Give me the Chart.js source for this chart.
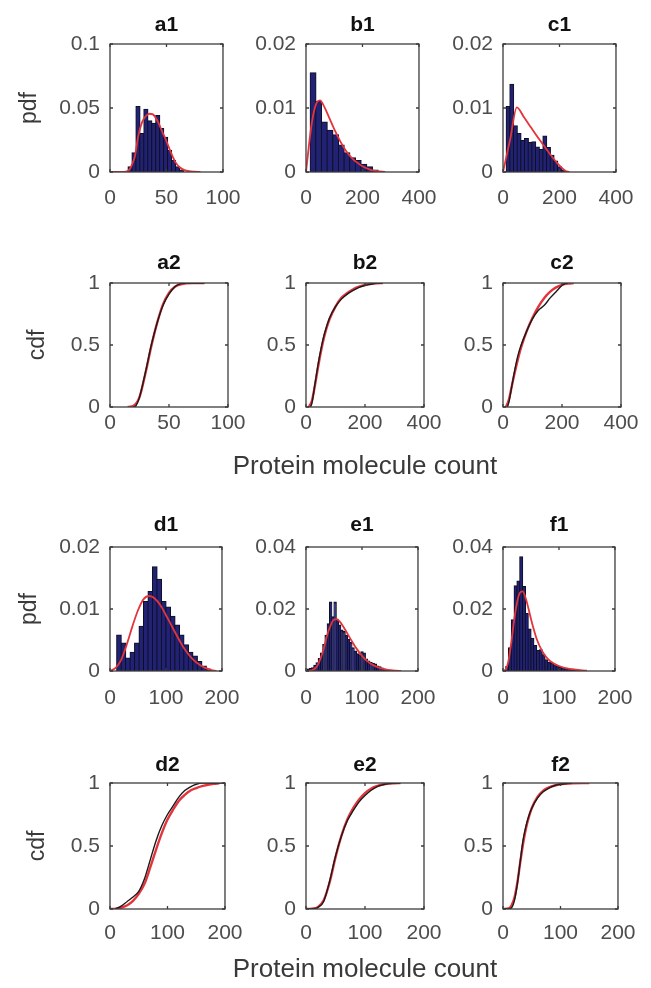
<!DOCTYPE html>
<html><head><meta charset="utf-8">
<script src="https://cdn.jsdelivr.net/npm/chart.js@4.4.1/dist/chart.umd.min.js"></script>
<style>
html,body{margin:0;padding:0;background:#fff;}
body{width:651px;height:988px;position:relative;overflow:hidden;}
canvas{position:absolute;}
</style></head><body>
<script>
// ---------- tick values and labels ----------
const xTicks100 = [0, 50, 100];   const xLabels100 = ['0', '50', '100'];
const xTicks200 = [0, 100, 200];  const xLabels200 = ['0', '100', '200'];
const xTicks400 = [0, 200, 400];  const xLabels400 = ['0', '200', '400'];
const yTicksA1 = [0, 0.05, 0.1];  const yLabelsA1 = ['0', '0.05', '0.1'];
const yTicks002 = [0, 0.01, 0.02]; const yLabels002 = ['0', '0.01', '0.02'];
const yTicks004 = [0, 0.02, 0.04]; const yLabels004 = ['0', '0.02', '0.04'];
const yTicksCdf = [0, 0.5, 1];    const yLabelsCdf = ['0', '0.5', '1'];

// ---------- a1 ----------
const a1BinX = [17.75, 21.25, 24.75, 28.25, 31.75, 35.25, 38.75, 42.25, 45.75, 49.25, 52.75, 56.25, 59.75, 63.25];
const a1BinY = [0.004, 0.015, 0.051, 0.030, 0.049, 0.040, 0.038, 0.044, 0.034, 0.027, 0.017, 0.009, 0.004, 0.0015];
const a1FitX = [0, 10, 15, 18, 20, 22, 25, 28, 31, 35, 38, 42, 46, 50, 54, 58, 62, 66, 70, 75, 80];
const a1FitY = [0, 0, 0.0005, 0.003, 0.007, 0.012, 0.028, 0.038, 0.043, 0.0455, 0.045, 0.040, 0.032, 0.024, 0.015, 0.0075, 0.0035, 0.0015, 0.0006, 0.0002, 0];
// ---------- b1 ----------
const b1BinX = [25, 45, 65, 85, 105, 125, 145, 165, 185, 205, 225, 245];
const b1BinY = [0.0155, 0.011, 0.0078, 0.0065, 0.0058, 0.0042, 0.003, 0.0022, 0.0018, 0.0012, 0.0008, 0.0003];
const b1FitX = [0, 10, 20, 30, 40, 50, 60, 70, 80, 100, 120, 140, 160, 180, 200, 220, 240, 260, 280];
const b1FitY = [0, 0.004, 0.0075, 0.0098, 0.011, 0.0112, 0.0106, 0.0097, 0.0087, 0.0067, 0.0049, 0.0034, 0.0023, 0.0015, 0.0009, 0.0005, 0.0002, 0.0001, 0];
// ---------- c1 ----------
const c1BinX = [18, 31, 44, 57, 70, 83, 96, 109, 122, 135, 148, 161, 174, 187, 200, 213];
const c1BinY = [0.0102, 0.0137, 0.0072, 0.006, 0.0049, 0.0052, 0.0046, 0.0047, 0.0039, 0.0035, 0.0056, 0.0038, 0.0026, 0.0017, 0.0008, 0.0003];
const c1FitX = [0, 25, 49, 75, 100, 125, 150, 175, 200, 220, 235];
const c1FitY = [0, 0.005, 0.0101, 0.0085, 0.0069, 0.0053, 0.0038, 0.0023, 0.001, 0.0002, 0];
// ---------- a2 ----------
const a2EmpX = [20, 22, 25, 30, 35, 40, 45, 50, 55, 60, 65, 80];
const a2EmpY = [0, 0.01, 0.08, 0.28, 0.50, 0.68, 0.82, 0.91, 0.97, 0.995, 1, 1];
const a2FitX = [15, 20, 25, 30, 35, 40, 45, 50, 55, 60, 70, 80];
const a2FitY = [0, 0.01, 0.08, 0.27, 0.49, 0.68, 0.83, 0.92, 0.97, 0.99, 1, 1];
// ---------- b2 ----------
const b2EmpX = [15, 20, 30, 40, 50, 60, 70, 80, 100, 120, 140, 160, 180, 200, 220, 240, 260];
const b2EmpY = [0, 0.03, 0.18, 0.33, 0.46, 0.57, 0.65, 0.72, 0.81, 0.87, 0.91, 0.94, 0.965, 0.98, 0.99, 1, 1];
const b2FitX = [10, 20, 30, 40, 50, 60, 70, 80, 100, 120, 140, 160, 180, 200, 220, 240, 260];
const b2FitY = [0, 0.05, 0.17, 0.31, 0.44, 0.55, 0.64, 0.71, 0.81, 0.88, 0.92, 0.95, 0.97, 0.985, 0.993, 0.998, 1];
// ---------- c2 ----------
const c2EmpX = [15, 20, 30, 40, 50, 60, 80, 100, 120, 140, 160, 180, 200, 210, 220];
const c2EmpY = [0, 0.04, 0.17, 0.30, 0.41, 0.49, 0.61, 0.71, 0.78, 0.82, 0.88, 0.93, 0.98, 0.995, 1];
const c2FitX = [10, 20, 30, 40, 50, 60, 80, 100, 120, 140, 160, 180, 200, 220, 240];
const c2FitY = [0, 0.06, 0.17, 0.28, 0.38, 0.47, 0.61, 0.72, 0.81, 0.88, 0.93, 0.965, 0.985, 0.995, 1];
// ---------- d1 ----------
const d1BinX = [16, 24, 32, 40, 48, 56, 64, 72, 80, 88, 96, 104, 112, 120, 128, 136, 144, 152, 160, 168, 176];
const d1BinY = [0.0058, 0.0045, 0.0021, 0.003, 0.0045, 0.0072, 0.0112, 0.0128, 0.0168, 0.0148, 0.0112, 0.0103, 0.0088, 0.0074, 0.0058, 0.0042, 0.003, 0.0024, 0.0015, 0.0008, 0.0003];
const d1FitX = [0, 10, 20, 30, 40, 50, 60, 70, 80, 90, 100, 110, 120, 130, 140, 150, 160, 170, 180, 190];
const d1FitY = [0, 0.0005, 0.0018, 0.0043, 0.0072, 0.0098, 0.0116, 0.0121, 0.0117, 0.0106, 0.009, 0.0073, 0.0056, 0.004, 0.0027, 0.0017, 0.001, 0.0005, 0.0002, 0];
// ---------- e1 ----------
const e1BinX = [4, 8, 12, 16, 20, 24, 28, 32, 36, 40, 44, 48, 52, 56, 60, 64, 68, 72, 76, 80, 84, 88, 92, 96, 100, 104, 108, 112, 116, 120, 124, 128, 132, 136, 140, 144, 148, 152];
const e1BinY = [0.0006, 0.0008, 0.001, 0.0018, 0.0026, 0.004, 0.0058, 0.0085, 0.0115, 0.0152, 0.0222, 0.0175, 0.0222, 0.0165, 0.0148, 0.0132, 0.0128, 0.0115, 0.0102, 0.0092, 0.0075, 0.0064, 0.0055, 0.0052, 0.0062, 0.0058, 0.0038, 0.0032, 0.0028, 0.0025, 0.0022, 0.0016, 0.0013, 0.0009, 0.0006, 0.0004, 0.0003, 0.0002];
const e1FitX = [0, 10, 20, 30, 40, 50, 55, 60, 70, 80, 90, 100, 110, 120, 130, 140, 150, 160, 170];
const e1FitY = [0, 0.0002, 0.0016, 0.0062, 0.0128, 0.0166, 0.0167, 0.016, 0.0133, 0.0102, 0.0073, 0.0049, 0.0031, 0.0019, 0.0011, 0.0006, 0.0003, 0.0001, 0];
// ---------- f1 ----------
const f1BinX = [2.5, 7.5, 12.5, 17.5, 22.5, 27.5, 32.5, 37.5, 42.5, 47.5, 52.5, 57.5, 62.5, 67.5, 72.5, 77.5, 82.5, 87.5, 92.5, 97.5, 102.5, 107.5, 112.5, 117.5, 122.5, 127.5, 132.5, 137.5, 142.5];
const f1BinY = [0.0003, 0.0014, 0.0075, 0.0165, 0.0275, 0.029, 0.0368, 0.0272, 0.0185, 0.0135, 0.0105, 0.0082, 0.0066, 0.0068, 0.0052, 0.0036, 0.0028, 0.0024, 0.0019, 0.0016, 0.0012, 0.001, 0.0008, 0.0007, 0.0005, 0.0004, 0.0003, 0.0002, 0.0002];
const f1FitX = [0, 5, 10, 15, 20, 25, 30, 35, 40, 45, 50, 55, 60, 70, 80, 90, 100, 110, 120, 130, 140, 150];
const f1FitY = [0, 0.0005, 0.0035, 0.0095, 0.0165, 0.022, 0.0252, 0.0257, 0.0238, 0.0205, 0.0168, 0.0134, 0.0104, 0.0064, 0.0039, 0.0025, 0.0016, 0.001, 0.0007, 0.0004, 0.0002, 0.0001];
// ---------- d2 ----------
const d2EmpX = [10, 20, 30, 40, 50, 60, 70, 80, 90, 100, 110, 120, 130, 140, 150, 160, 180, 200];
const d2EmpY = [0, 0.025, 0.06, 0.095, 0.14, 0.24, 0.39, 0.54, 0.66, 0.75, 0.82, 0.89, 0.94, 0.97, 0.99, 1, 1, 1];
const d2FitX = [0, 10, 20, 30, 40, 50, 60, 70, 80, 90, 100, 110, 120, 130, 140, 150, 160, 170, 180, 190];
const d2FitY = [0, 0.003, 0.012, 0.03, 0.065, 0.12, 0.2, 0.33, 0.47, 0.6, 0.71, 0.79, 0.86, 0.905, 0.94, 0.96, 0.975, 0.985, 0.993, 0.998];
// ---------- e2 ----------
const e2EmpX = [0, 10, 20, 30, 40, 50, 60, 70, 80, 90, 100, 110, 120, 130, 140, 150, 160];
const e2EmpY = [0, 0.002, 0.012, 0.06, 0.22, 0.42, 0.58, 0.7, 0.78, 0.85, 0.9, 0.94, 0.97, 0.985, 0.995, 1, 1];
const e2FitX = [0, 10, 20, 30, 40, 50, 60, 70, 80, 90, 100, 110, 120, 130, 140, 150, 160];
const e2FitY = [0, 0.003, 0.015, 0.07, 0.21, 0.41, 0.58, 0.71, 0.8, 0.87, 0.92, 0.955, 0.975, 0.988, 0.995, 0.998, 1];
// ---------- f2 ----------
const f2EmpX = [0, 10, 15, 20, 25, 30, 35, 40, 45, 50, 60, 70, 80, 90, 100, 110, 120];
const f2EmpY = [0, 0.002, 0.01, 0.07, 0.2, 0.38, 0.55, 0.66, 0.74, 0.8, 0.88, 0.93, 0.96, 0.98, 0.99, 0.996, 1];
const f2FitX = [0, 10, 15, 20, 25, 30, 35, 40, 45, 50, 60, 70, 80, 90, 100, 120, 140, 150];
const f2FitY = [0, 0.005, 0.03, 0.09, 0.21, 0.37, 0.52, 0.64, 0.73, 0.8, 0.89, 0.94, 0.965, 0.98, 0.99, 0.997, 1, 1];

// ---------- styling / layout ----------
const FONT = "'Liberation Sans', Arial, Helvetica, sans-serif";
const RED = '#e3343c', NAVY = '#212274', EDGE = '#0f0f22', BLACK = '#1a1a1a';
const TICKCOL = '#4d4d4d', AXCOL = '#3c3c3c', LABCOL = '#3a3a3a';
const TICKSIZE = 21, TITLESIZE = 21, YLABSIZE = 23, XLABSIZE = 26;
const COLS = [110, 306, 503];
const BOXW = 118;
const ROWS = [
  {top: 44, h: 128, tickPad: 15.5, titlePad: 10.5},
  {top: 283, h: 124, tickPad: 5.5, titlePad: 9.5},
  {top: 547, h: 124, tickPad: 16.5, titlePad: 7.5},
  {top: 783, h: 126, tickPad: 13.5, titlePad: 11.5}
];

const pts = (xs, ys) => xs.map((v, i) => ({x: v, y: ys[i]}));

const panels = [
  {t: 'a1', col: 0, row: 0, kind: 'pdf', bx: a1BinX, by: a1BinY, fx: a1FitX, fy: a1FitY, xt: xTicks100, xl: xLabels100, yt: yTicksA1, yl: yLabelsA1, ytitle: 'pdf'},
  {t: 'b1', col: 1, row: 0, kind: 'pdf', bx: b1BinX, by: b1BinY, fx: b1FitX, fy: b1FitY, xt: xTicks400, xl: xLabels400, yt: yTicks002, yl: yLabels002},
  {t: 'c1', col: 2, row: 0, kind: 'pdf', bx: c1BinX, by: c1BinY, fx: c1FitX, fy: c1FitY, xt: xTicks400, xl: xLabels400, yt: yTicks002, yl: yLabels002},
  {t: 'a2', col: 0, row: 1, kind: 'cdf', ex: a2EmpX, ey: a2EmpY, fx: a2FitX, fy: a2FitY, xt: xTicks100, xl: xLabels100, yt: yTicksCdf, yl: yLabelsCdf, ytitle: 'cdf'},
  {t: 'b2', col: 1, row: 1, kind: 'cdf', ex: b2EmpX, ey: b2EmpY, fx: b2FitX, fy: b2FitY, xt: xTicks400, xl: xLabels400, yt: yTicksCdf, yl: yLabelsCdf, xtitle: 'Protein molecule count'},
  {t: 'c2', col: 2, row: 1, kind: 'cdf', ex: c2EmpX, ey: c2EmpY, fx: c2FitX, fy: c2FitY, xt: xTicks400, xl: xLabels400, yt: yTicksCdf, yl: yLabelsCdf},
  {t: 'd1', col: 0, row: 2, kind: 'pdf', bx: d1BinX, by: d1BinY, fx: d1FitX, fy: d1FitY, xt: xTicks200, xl: xLabels200, yt: yTicks002, yl: yLabels002, ytitle: 'pdf'},
  {t: 'e1', col: 1, row: 2, kind: 'pdf', bx: e1BinX, by: e1BinY, fx: e1FitX, fy: e1FitY, xt: xTicks200, xl: xLabels200, yt: yTicks004, yl: yLabels004},
  {t: 'f1', col: 2, row: 2, kind: 'pdf', bx: f1BinX, by: f1BinY, fx: f1FitX, fy: f1FitY, xt: xTicks200, xl: xLabels200, yt: yTicks004, yl: yLabels004},
  {t: 'd2', col: 0, row: 3, kind: 'cdf', ex: d2EmpX, ey: d2EmpY, fx: d2FitX, fy: d2FitY, xt: xTicks200, xl: xLabels200, yt: yTicksCdf, yl: yLabelsCdf, ytitle: 'cdf'},
  {t: 'e2', col: 1, row: 3, kind: 'cdf', ex: e2EmpX, ey: e2EmpY, fx: e2FitX, fy: e2FitY, xt: xTicks200, xl: xLabels200, yt: yTicksCdf, yl: yLabelsCdf, xtitle: 'Protein molecule count'},
  {t: 'f2', col: 2, row: 3, kind: 'cdf', ex: f2EmpX, ey: f2EmpY, fx: f2FitX, fy: f2FitY, xt: xTicks200, xl: xLabels200, yt: yTicksCdf, yl: yLabelsCdf}
];

// MATLAB-style box with inward ticks
const boxPlugin = {
  id: 'matlabBox',
  afterDraw(chart) {
    const {ctx, chartArea: {left, right, top, bottom}, scales: {x, y}} = chart;
    ctx.save();
    ctx.strokeStyle = AXCOL;
    ctx.lineWidth = 1.3;
    ctx.strokeRect(left, top, right - left, bottom - top);
    const tl = 3;
    ctx.beginPath();
    x.ticks.forEach(t => {
      const px = x.getPixelForValue(t.value);
      ctx.moveTo(px, bottom); ctx.lineTo(px, bottom - tl);
      ctx.moveTo(px, top); ctx.lineTo(px, top + tl);
    });
    y.ticks.forEach(t => {
      const py = y.getPixelForValue(t.value);
      ctx.moveTo(left, py); ctx.lineTo(left + tl, py);
      ctx.moveTo(right, py); ctx.lineTo(right - tl, py);
    });
    ctx.stroke();
    ctx.restore();
  }
};

// shared x-axis caption (drawn under the middle column, full width, not squeezed)
const captionPlugin = {
  id: 'xCaption',
  afterDraw(chart, args, opts) {
    if (!opts || !opts.text) return;
    const {ctx, chartArea: {left, right, bottom}} = chart;
    ctx.save();
    ctx.font = `${XLABSIZE}px ${FONT}`;
    ctx.fillStyle = LABCOL;
    ctx.textAlign = 'center';
    ctx.textBaseline = 'middle';
    ctx.fillText(opts.text, (left + right) / 2, bottom + opts.offset);
    ctx.restore();
  }
};

panels.forEach(p => {
  const row = ROWS[p.row];
  const YW = p.col === 0 ? 100 : 60;
  const extraL = p.xtitle ? 40 : 0;
  const extraR = p.xtitle ? 100 : 28;
  const XH = p.xtitle ? 78 : 42;
  const W = extraL + YW + BOXW + extraR;
  const H = 40 + row.h + XH;
  const cv = document.createElement('canvas');
  cv.width = W; cv.height = H;
  cv.style.left = (COLS[p.col] - YW - extraL) + 'px';
  cv.style.top = (row.top - 40) + 'px';
  cv.style.width = W + 'px'; cv.style.height = H + 'px';
  document.body.appendChild(cv);

  let datasets;
  if (p.kind === 'pdf') {
    datasets = [
      {type: 'line', data: pts(p.fx, p.fy), borderColor: RED, borderWidth: 1.8, pointRadius: 0, cubicInterpolationMode: 'monotone', fill: false},
      {type: 'bar', data: pts(p.bx, p.by), backgroundColor: NAVY, borderColor: EDGE, borderWidth: 1, inflateAmount: 0.6, barPercentage: 1, categoryPercentage: 1}
    ];
  } else {
    datasets = [
      {type: 'line', data: pts(p.ex, p.ey), borderColor: BLACK, borderWidth: 1.4, pointRadius: 0, cubicInterpolationMode: 'monotone', fill: false},
      {type: 'line', data: pts(p.fx, p.fy), borderColor: RED, borderWidth: 2.4, pointRadius: 0, cubicInterpolationMode: 'monotone', fill: false}
    ];
  }

  new Chart(cv, {
    type: 'line',
    data: {datasets},
    options: {
      responsive: false, animation: false, devicePixelRatio: 1, events: [],
      layout: {padding: {left: extraL, right: extraR, top: 0, bottom: 0}},
      plugins: {
        legend: {display: false}, tooltip: {enabled: false},
        title: {display: true, text: p.t, fullSize: false, color: '#111',
                font: {family: FONT, size: TITLESIZE, weight: 'bold', lineHeight: 1},
                padding: {top: row.titlePad, bottom: 40 - TITLESIZE - row.titlePad}},
        xCaption: {text: p.xtitle || '', offset: p.row === 1 ? 60 : 61}
      },
      scales: {
        x: {
          type: 'linear', min: p.xt[0], max: p.xt[p.xt.length - 1], offset: false,
          grid: {display: false, drawTicks: false, offset: false}, border: {display: false},
          afterBuildTicks: s => { s.ticks = p.xt.map(v => ({value: v})); },
          afterFit: s => { s.height = XH; },
          ticks: {callback: (v, i) => p.xl[i], color: TICKCOL, padding: row.tickPad, maxRotation: 0, autoSkip: false,
                  font: {family: FONT, size: TICKSIZE, lineHeight: 1}}
        },
        y: {
          type: 'linear', min: p.yt[0], max: p.yt[p.yt.length - 1],
          grid: {display: false, drawTicks: false}, border: {display: false},
          afterBuildTicks: s => { s.ticks = p.yt.map(v => ({value: v})); },
          afterFit: s => { s.width = YW; },
          ticks: {callback: (v, i) => p.yl[i], color: TICKCOL, padding: 10, autoSkip: false,
                  font: {family: FONT, size: TICKSIZE, lineHeight: 1}},
          title: {display: !!p.ytitle, text: p.ytitle || '', color: LABCOL,
                  font: {family: FONT, size: YLABSIZE, lineHeight: 1},
                  padding: {top: p.ytitle === 'cdf' ? 16.5 : 8.5, bottom: 0}}
        }
      }
    },
    plugins: [boxPlugin, captionPlugin]
  });
});
</script>
</body></html>
